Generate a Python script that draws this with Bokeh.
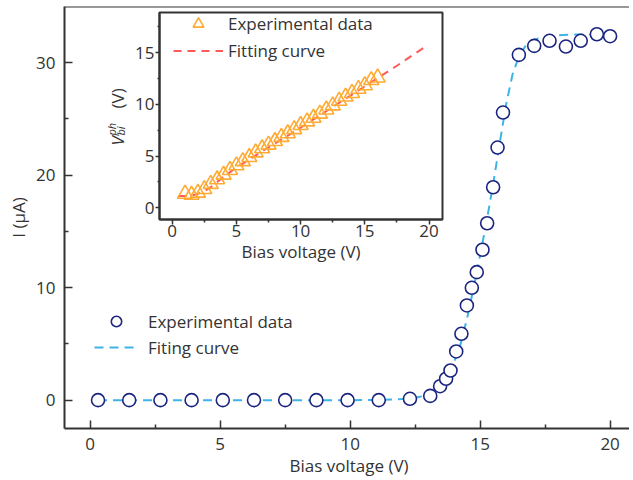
from bokeh.plotting import figure
from bokeh.models import FixedTicker, Legend, LegendItem, Span, Label, Range1d
from bokeh.layouts import column
from bokeh.embed import file_html
from bokeh.resources import INLINE
from math import pi

FONT = "Open Sans"
FS = "17px"
TXT = "#333333"
NAVY = "#1b2580"
SKY = "#3db4e8"
ORANGE = "#ffaa33"
RED = "#ff5a5a"

# ---------------- main data: I (uA) vs bias voltage (V) ----------------
exp_v = [0.3, 1.5, 2.7, 3.9, 5.1, 6.3, 7.5, 8.7, 9.9, 11.1, 12.3, 13.08,
         13.46, 13.69, 13.86, 14.08, 14.28, 14.49, 14.68, 14.87, 15.09,
         15.27, 15.5, 15.67, 15.88, 16.49, 17.08, 17.67, 18.3, 18.87, 19.49, 20.0]
exp_i = [0, 0, 0, 0, 0, 0, 0, 0, 0, 0, 0.12, 0.38,
         1.24, 1.9, 2.64, 4.33, 5.9, 8.42, 9.99, 11.38, 13.37,
         15.73, 18.93, 22.46, 25.57, 30.7, 31.5, 31.95, 31.44, 31.95, 32.53, 32.36]

fit_v = [0.3, 2, 4, 6, 8, 10, 11, 12, 12.5, 13, 13.5, 14, 14.25, 14.5, 14.75,
         15, 15.25, 15.5, 15.75, 16, 16.25, 16.5, 16.75, 17, 17.5, 18, 18.5, 19, 19.5]
fit_i = [0, 0, 0, 0, 0, 0, 0.02, 0.1, 0.22, 0.45, 1.3, 3.4, 5.0, 7.3, 10.0,
         12.9, 15.9, 19.2, 22.8, 26.3, 29.0, 30.6, 31.5, 32.0, 32.3, 32.45, 32.5, 32.5, 32.5]

main_x_ticks = [0, 5, 10, 15, 20]
main_x_minor = [2.5, 7.5, 12.5, 17.5]
main_y_ticks = [0, 10, 20, 30]
main_y_minor = [5, 15, 25]

# ---------------- inset data: V_bi^ph vs bias voltage ----------------
vbi_x = [1.0, 1.5, 2.0, 2.5, 3.0, 3.5, 4.0, 4.5, 5.0, 5.5, 6.0, 6.5, 7.0, 7.5,
         8.0, 8.5, 9.0, 9.5, 10.0, 10.5, 11.0, 11.5, 12.0, 12.5, 13.0, 13.5,
         14.0, 14.5, 15.0, 15.5, 16.0]
vbi_y = [1.35, 1.25, 1.45, 1.8, 2.3, 2.75, 3.2, 3.65, 4.1, 4.5, 4.9, 5.35, 5.75, 6.1,
         6.45, 6.85, 7.2, 7.6, 8.0, 8.35, 8.7, 9.1, 9.5, 9.9, 10.35, 10.75,
         11.1, 11.5, 11.85, 12.35, 12.6]
vfit_x = [0.5, 1.0, 1.5, 2.0, 2.5, 3.0, 4.0, 5.0, 7.5, 10.0, 12.5, 15.0, 17.5, 19.6]
vfit_y = [1.15, 1.15, 1.2, 1.35, 1.6, 2.0, 3.0, 3.9, 5.85, 7.75, 9.75, 11.75, 13.75, 15.5]

in_x_ticks = [0, 5, 10, 15, 20]
in_x_minor = [2.5, 7.5, 12.5, 17.5]
in_y_ticks = [0, 5, 10, 15]
in_y_minor = [2.5, 7.5, 12.5, 17.5]


def style_axis(ax, tin, tout, min_in, min_out, standoff):
    ax.axis_line_color = TXT
    ax.axis_line_width = 2
    ax.major_tick_line_color = TXT
    ax.major_tick_line_width = 1.5
    ax.minor_tick_line_color = TXT
    ax.minor_tick_line_width = 1.5
    ax.major_tick_in = tin
    ax.major_tick_out = tout
    ax.minor_tick_in = min_in
    ax.minor_tick_out = min_out
    ax.major_label_standoff = standoff
    ax.major_label_text_font = FONT
    ax.major_label_text_font_size = FS
    ax.major_label_text_color = TXT
    ax.axis_label_text_font = FONT
    ax.axis_label_text_font_size = FS
    ax.axis_label_text_font_style = "normal"
    ax.axis_label_text_color = TXT


# ---------------- main figure ----------------
p = figure(frame_width=569, frame_height=422,
           x_range=Range1d(-0.99, 20.9), y_range=Range1d(-2.52, 35.0),
           min_border_left=56, min_border_right=0, min_border_top=0, min_border_bottom=52,
           output_backend="svg", toolbar_location=None)
p.grid.visible = False
p.outline_line_color = None
p.background_fill_color = "white"
p.border_fill_color = "white"

p.xaxis.ticker = FixedTicker(ticks=main_x_ticks, minor_ticks=main_x_minor)
p.yaxis.ticker = FixedTicker(ticks=main_y_ticks, minor_ticks=main_y_minor)
style_axis(p.xaxis[0], 8, 0, 4, 0, 9)
style_axis(p.yaxis[0], 8, 0, 4, 0, 9)
p.xaxis.axis_label = "Bias voltage (V)"
p.yaxis.axis_label = "I (μA)"
p.xaxis.axis_label_standoff = 1
p.yaxis.axis_label_standoff = 3
p.add_layout(Span(location=35.0, dimension="width", line_color=TXT, line_width=2))

fit_r = p.line(fit_v, fit_i, line_color=SKY, line_width=2, line_dash="9 6")
exp_r = p.scatter(exp_v, exp_i, marker="circle", size=13, fill_color="white",
                  line_color=NAVY, line_width=1.6)

leg = Legend(items=[LegendItem(label="Experimental data", renderers=[exp_r]),
                    LegendItem(label="Fiting curve", renderers=[fit_r])],
             location=(34, 68), glyph_width=44, glyph_height=26, label_height=26,
             spacing=0, padding=0, margin=0, label_standoff=10,
             border_line_color=None, background_fill_alpha=0,
             label_text_font=FONT, label_text_font_size=FS, label_text_color=TXT)
p.add_layout(leg)

# composed title of the inset's y axis:  V_bi^ph (V)  (rotated text, beside the inset)
lab_kw = dict(angle=pi / 2, text_color=TXT, text_font=FONT,
              text_align="left", text_baseline="alphabetic")
p.add_layout(Label(x=1.05, y=22.64, text="V", text_font_size=FS,
                   text_font_style="italic", **lab_kw))
p.add_layout(Label(x=0.82, y=23.53, text="ph", text_font_size="11px",
                   text_font_style="italic", **lab_kw))
p.add_layout(Label(x=1.17, y=23.53, text="bi", text_font_size="11px",
                   text_font_style="italic", **lab_kw))
p.add_layout(Label(x=1.05, y=25.93, text="(V)", text_font_size=FS, **lab_kw))

p.styles = {"margin-top": "6px", "margin-bottom": "-14px"}

# ---------------- inset figure ----------------
q = figure(frame_width=283, frame_height=207,
           x_range=Range1d(-0.99, 21.05), y_range=Range1d(-1.13, 18.9),
           min_border_left=64, min_border_right=3, min_border_top=1, min_border_bottom=46,
           output_backend="svg", toolbar_location=None)
q.grid.visible = False
q.outline_line_color = TXT
q.outline_line_width = 2
q.background_fill_color = "white"
q.border_fill_alpha = 0
q.xaxis.ticker = FixedTicker(ticks=in_x_ticks, minor_ticks=in_x_minor)
q.yaxis.ticker = FixedTicker(ticks=in_y_ticks, minor_ticks=in_y_minor)
style_axis(q.xaxis[0], 0, 5, 0, 3, 0)
style_axis(q.yaxis[0], 0, 4, 0, 2, 1)
q.xaxis.axis_label = "Bias voltage (V)"
q.xaxis.axis_label_standoff = 0

vfit_r = q.line(vfit_x, vfit_y, line_color=RED, line_width=2, line_dash="8 6")
vbi_r = q.scatter(vbi_x, vbi_y, marker="triangle", size=15, fill_color=None,
                  line_color=ORANGE, line_width=1.6)

qleg = Legend(items=[LegendItem(label="Experimental data", renderers=[vbi_r]),
                     LegendItem(label="Fitting curve", renderers=[vfit_r])],
              location=(14, 155), glyph_width=50, glyph_height=27, label_height=27,
              spacing=0, padding=0, margin=0, label_standoff=5,
              border_line_color=None, background_fill_alpha=0,
              label_text_font=FONT, label_text_font_size=FS, label_text_color=TXT)
q.add_layout(qleg)

q.styles = {"position": "absolute", "left": "95px", "top": "11px", "z-index": "5"}

layout = column(p, q)
open("out.html", "w").write(file_html(layout, INLINE))
